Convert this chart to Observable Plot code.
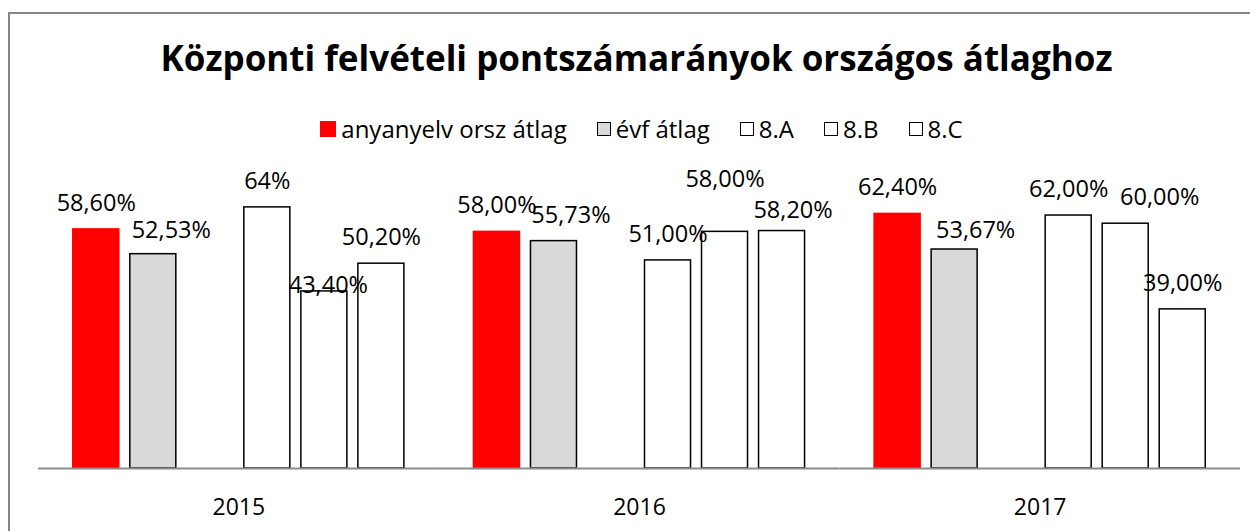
<!DOCTYPE html>
<html>
<head>
<meta charset="utf-8">
<script src="https://cdn.jsdelivr.net/npm/d3@7"></script>
<script src="https://cdn.jsdelivr.net/npm/@observablehq/plot@0.6"></script>
<style>
  html, body { margin: 0; padding: 0; background: #fff; }
  body { width: 1250px; height: 531px; position: relative; overflow: hidden; font-family: "Open Sans", sans-serif; color: #000; }
  #frame { position: absolute; left: 8px; top: 12px; width: 1300px; height: 600px; border-left: 2px solid #878787; border-top: 2px solid #878787; }
  #title { position: absolute; left: 0; top: 36px; width: 1273px; text-align: center; font-weight: 700; font-size: 35px; line-height: 44px; white-space: nowrap; }
  #legend { position: absolute; left: 0; top: 113px; width: 1283px; display: flex; justify-content: center; font-size: 24px; line-height: 32px; white-space: nowrap; }
  .item { display: flex; align-items: center; margin: 0 15px; }
  .sw { width: 14px; height: 14px; margin-right: 5px; box-sizing: border-box; }
  #chart { position: absolute; left: 0; top: 150px; }
</style>
</head>
<body>
<div id="frame"></div>
<div id="title">Központi felvételi pontszámarányok országos átlaghoz</div>
<div id="legend"></div>
<div id="chart"></div>
<script>
// ---- data ----
const years = ["2015", "2016", "2017"];
const seriesNames = ["anyanyelv orsz átlag", "évf átlag", "8.A", "8.B", "8.C"];
const anyanyelvOrszAtlag = [0.586, 0.580, 0.624];
const evfAtlag = [0.5253, 0.5573, 0.5367];
const osztaly8A = [0.64, 0.51, 0.62];
const osztaly8B = [0.434, 0.58, 0.60];
const osztaly8C = [0.502, 0.582, 0.39];
// labels shown without decimals in the original
const wholeLabels = ["2015|8.A"];

// ---- styles ----
const fillOf = {"anyanyelv orsz átlag": "#ff0000", "évf átlag": "#d9d9d9", "8.A": "#ffffff", "8.B": "#ffffff", "8.C": "#ffffff"};
const strokeOf = {"anyanyelv orsz átlag": "#ff0000", "évf átlag": "#000000", "8.A": "#000000", "8.B": "#000000", "8.C": "#000000"};
// label nudges (px) as placed in the original chart to avoid collisions
const labelNudge = {
  "2015|évf átlag": [18, 2],
  "2015|8.B": [4, 20],
  "2016|évf átlag": [17, 0],
  "2016|8.B": [0, -26],
  "2016|8.C": [11, 5],
  "2017|évf átlag": [21, 7],
  "2017|8.B": [34, 0]
};

const seriesValues = [anyanyelvOrszAtlag, evfAtlag, osztaly8A, osztaly8B, osztaly8C];
const data = [];
years.forEach((yr, i) => {
  seriesNames.forEach((s, j) => {
    data.push({year: yr, series: s, value: seriesValues[j][i]});
  });
});

function fmt(d) {
  const pct = d.value * 100;
  if (wholeLabels.includes(d.year + "|" + d.series)) return Math.round(pct) + "%";
  return pct.toFixed(2).replace(".", ",") + "%";
}

// x domain includes an empty slot (as in the original chart)
const xDomain = ["anyanyelv orsz átlag", "évf átlag", "\u200b", "8.A", "8.B", "8.C"];

const textMarks = data.map(d => {
  const n = labelNudge[d.year + "|" + d.series] || [0, 0];
  return Plot.text([d], {
    fx: "year", x: "series", y: "value",
    text: fmt,
    dx: n[0],
    dy: -26 + n[1],
    lineAnchor: "middle",
    fill: "#000",
    fontSize: 23.5
  });
});

const chart = Plot.plot({
  width: 1250,
  height: 381,
  marginLeft: 38,
  marginRight: 10,
  marginTop: 32.4,
  marginBottom: 63,
  style: {fontFamily: "Open Sans, sans-serif", fontSize: "23px", color: "#000", background: "transparent"},
  fx: {domain: years, padding: 0, round: false, label: null, tickSize: 0, tickPadding: 30},
  x: {domain: xDomain, paddingInner: 0.193, paddingOuter: 0.61, round: false, axis: null},
  y: {domain: [0, 0.7], axis: null},
  marks: [
    Plot.barY(data, {
      fx: "year", x: "series", y: "value",
      fill: d => fillOf[d.series],
      stroke: d => strokeOf[d.series],
      strokeWidth: 1.5
    }),
    Plot.ruleY([0], {stroke: "#8c8c8c", strokeWidth: 2}),
    ...textMarks
  ]
});
document.getElementById("chart").appendChild(chart);

// legend
const legend = document.getElementById("legend");
seriesNames.forEach(s => {
  const item = document.createElement("div");
  item.className = "item";
  const sw = document.createElement("div");
  sw.className = "sw";
  sw.style.background = fillOf[s];
  sw.style.border = s === "anyanyelv orsz átlag" ? "none" : "1.5px solid #000";
  if (s === "anyanyelv orsz átlag") { sw.style.width = "16px"; sw.style.height = "16px"; }
  const t = document.createElement("span");
  t.textContent = s;
  item.appendChild(sw);
  item.appendChild(t);
  legend.appendChild(item);
});
</script>
</body>
</html>
